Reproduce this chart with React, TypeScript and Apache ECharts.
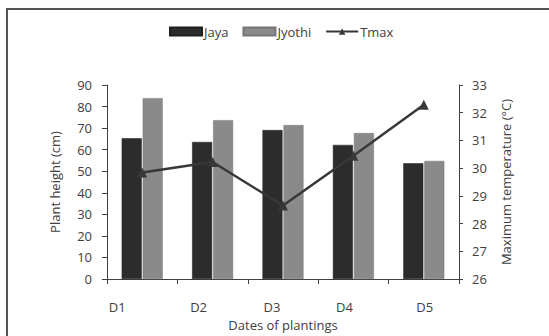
import React, { useEffect, useRef } from "react";
import * as echarts from "echarts";

const categories = ["D1", "D2", "D3", "D4", "D5"];
const jaya = [65.3, 63.6, 69.1, 62.2, 53.7];
const jyothi = [83.9, 73.7, 71.4, 67.7, 54.8];
const tmax = [29.84, 30.22, 28.65, 30.45, 32.29];

// per-label horizontal shift (px) to mimic the original label placement
const labelShift = [-25, -14, -11, -9, 1];

const FONT = "'Open Sans', Lato, sans-serif";
const FS = 13;
const TXT = "#404040";

export default function App() {
  const ref = useRef<HTMLDivElement>(null);
  useEffect(() => {
    const chart = echarts.init(ref.current!, undefined, { renderer: "svg" });
    const rich: Record<string, any> = {};
    labelShift.forEach((s, i) => {
      rich["l" + i] = {
        fontFamily: FONT,
        fontSize: FS,
        color: TXT,
        padding: s < 0 ? [0, -2 * s, 0, 0] : [0, 0, 0, 2 * s],
      };
    });
    chart.setOption({
      animation: false,
      textStyle: { fontFamily: FONT, color: TXT },
      graphic: [
        {
          type: "rect",
          shape: { x: 7, y: 9, width: 700, height: 500 },
          style: { fill: "none", stroke: "#555555", lineWidth: 2 },
          silent: true,
        },
      ],
      legend: {
        left: 164,
        top: 20,
        itemWidth: 32,
        itemHeight: 8,
        itemGap: 14,
        textStyle: { fontFamily: FONT, fontSize: FS, color: TXT, padding: [0, 0, 0, -3] },
        data: [
          { name: "Jaya", icon: "rect" },
          { name: "Jyothi", icon: "rect" },
          { name: "Tmax" },
        ],
      },
      grid: { left: 107, right: 90, top: 85, bottom: 54, containLabel: false },
      xAxis: {
        type: "category",
        data: categories,
        name: "Dates of plantings",
        nameLocation: "middle",
        nameGap: 39,
        nameTextStyle: { fontFamily: FONT, fontSize: FS, color: TXT },
        axisLine: { lineStyle: { color: "#404040", width: 1 } },
        axisTick: { show: true, length: 5, interval: 0, lineStyle: { color: "#404040" } },
        axisLabel: {
          margin: 21,
          interval: 0,
          formatter: (v: string, i: number) => `{l${i}|${v}}`,
          rich,
        },
      },
      yAxis: [
        {
          type: "value",
          min: 0,
          max: 90,
          interval: 10,
          name: "Plant height (cm)",
          nameLocation: "middle",
          nameGap: 46,
          nameTextStyle: { fontFamily: FONT, fontSize: FS, color: TXT },
          axisLine: { show: true, lineStyle: { color: "#404040" } },
          axisTick: { show: true, length: 5, lineStyle: { color: "#404040" } },
          axisLabel: { fontFamily: FONT, fontSize: FS, color: TXT, margin: 15 },
          splitLine: { show: false },
        },
        {
          type: "value",
          min: 26,
          max: 33,
          interval: 1,
          name: "Maximum temperature (°C)",
          nameLocation: "middle",
          nameGap: 40,
          nameRotate: 90,
          nameTextStyle: { fontFamily: FONT, fontSize: FS, color: TXT },
          axisLine: { show: true, lineStyle: { color: "#404040" } },
          axisTick: { show: true, length: 4, lineStyle: { color: "#404040" } },
          axisLabel: { fontFamily: FONT, fontSize: FS, color: TXT, margin: 13 },
          splitLine: { show: false },
        },
      ],
      series: [
        {
          name: "Jaya",
          type: "bar",
          data: jaya,
          barWidth: 20,
          barGap: "5%",
          itemStyle: { color: "#2c2c2c", borderColor: "#1e1e1e", borderWidth: 0.5 },
        },
        {
          name: "Jyothi",
          type: "bar",
          data: jyothi,
          barWidth: 20,
          itemStyle: { color: "#8a8a8a", borderColor: "#777", borderWidth: 0.5 },
        },
        {
          name: "Tmax",
          type: "line",
          yAxisIndex: 1,
          data: tmax,
          symbol: "triangle",
          symbolSize: 10,
          lineStyle: { color: "#383838", width: 2.5 },
          itemStyle: { color: "#383838" },
        },
      ],
    });
    return () => chart.dispose();
  }, []);
  return (
    <div
      ref={ref}
      style={{ position: "fixed", left: 0, top: 0, width: 549, height: 336, background: "#fff" }}
    />
  );
}
